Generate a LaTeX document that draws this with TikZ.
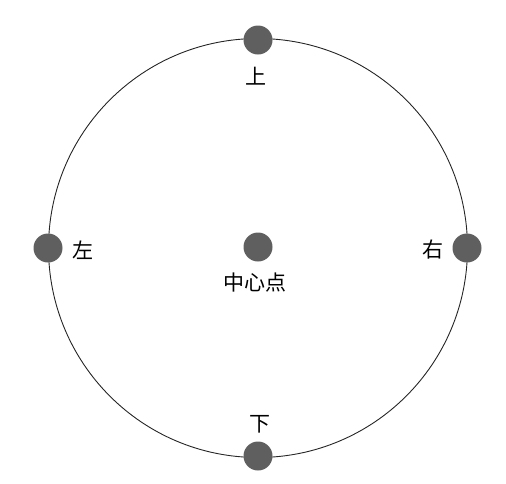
\documentclass[tikz,border=0pt]{standalone}
\usepackage{fontspec}
\newfontfamily\cjk{Noto Sans CJK SC}
\usetikzlibrary{positioning}
\definecolor{dotgray}{HTML}{5F5F5F}
\tikzset{
  dot/.style={circle,fill=dotgray,inner sep=0pt,minimum size=29pt},
  lbl/.style={font=\cjk\fontsize{21}{24}\selectfont,inner sep=0pt}
}
\begin{document}
\begin{tikzpicture}[x=1pt,y=-1pt]
\useasboundingbox (0,0) rectangle (506,483);
\node[draw=black!85,line width=0.9pt,circle,inner sep=0pt,minimum size=419pt] (ring) at (258,248){};
\node[dot] (top) at (258,40){};
\node[dot] (bottom) at (258,456){};
\node[dot] (left) at (48,248){};
\node[dot] (right) at (467,248){};
\node[dot] (center) at (258,247){};
\node[lbl] (shang) at (256,76){上};
\node[lbl] (xia) at (260,424){下};
\node[lbl] (zuo) at (83,250){左};
\node[lbl] (you) at (433,250){右};
\node[lbl] (zhongxin) at (255,283){中心点};
\end{tikzpicture}
\end{document}
